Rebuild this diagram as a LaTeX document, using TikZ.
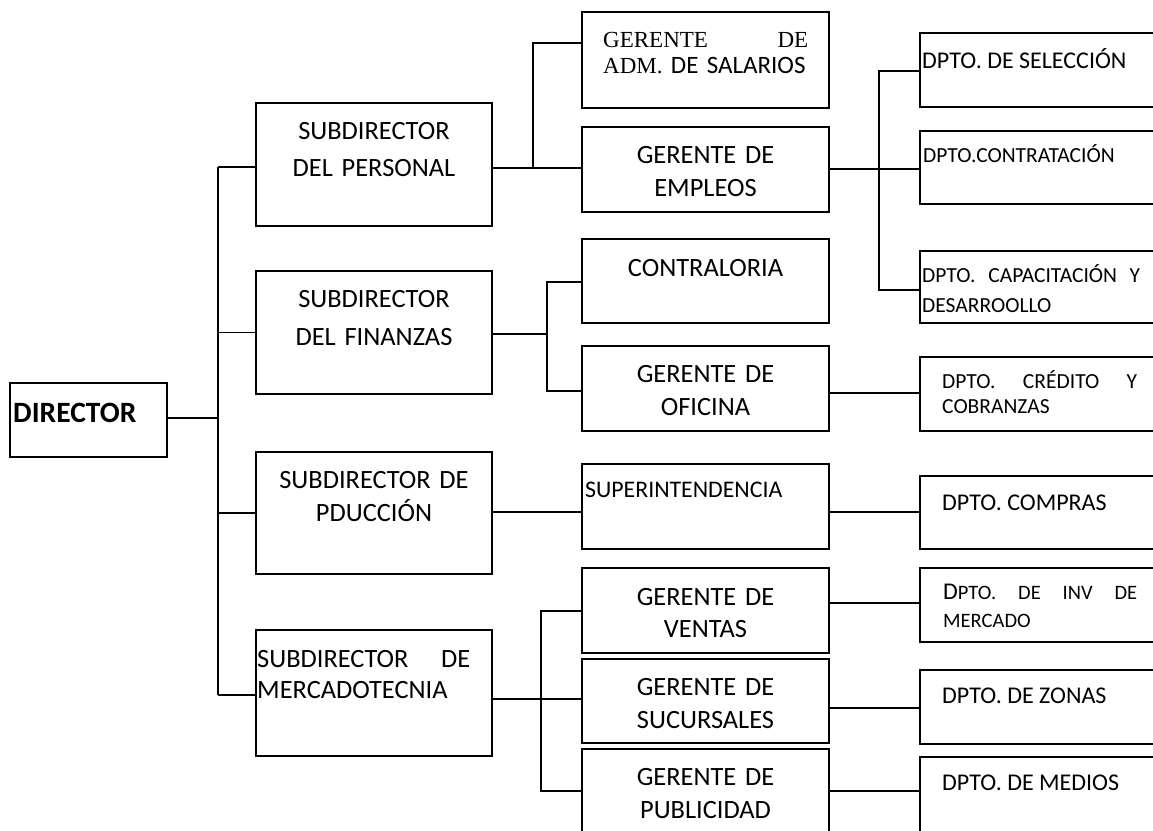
\documentclass[tikz,border=0pt]{standalone}
\usepackage{fontspec}
\setmainfont{Carlito}
\newfontfamily\tmsfont{Liberation Serif}
\begin{document}
\begin{tikzpicture}[x=1pt,y=-1pt,
  box/.style 2 args={draw, line width=1.5pt, inner sep=0pt, outer sep=0pt, anchor=north west, minimum width=#1pt, minimum height=#2pt},
  con/.style={line width=1.4pt},
  lc/.style={inner sep=0pt, anchor=base, align=center, text width=#1pt},
  ll/.style={inner sep=0pt, anchor=base west, align=left, text width=#1pt},
  fsub/.style={font=\fontsize{26.4}{#1}\selectfont},
  fger/.style={font=\fontsize{26.4}{#1}\selectfont},
  fdn/.style={font=\fontsize{24}{28}\selectfont},
  fds/.style={font=\fontsize{21.5}{#1}\selectfont}
]
\path[use as bounding box, clip] (0,0) rectangle (1153,830);
% boxes
\node[box={157}{74}] (dir) at (10,383) {};
\node[box={236}{123}] (sp) at (256,103) {};
\node[box={236}{123}] (sf) at (256,271) {};
\node[box={236}{122}] (sd) at (256,452) {};
\node[box={236}{126}] (sm) at (256,630) {};
\node[box={247}{96}] (ga) at (582,12) {};
\node[box={247}{85}] (ge) at (582,127) {};
\node[box={247}{84}] (gc) at (582,239) {};
\node[box={247}{85}] (go) at (582,346) {};
\node[box={247}{85}] (gs) at (582,464) {};
\node[box={247}{85}] (gv) at (582,568) {};
\node[box={247}{84}] (gu) at (582,659) {};
\node[box={247}{100}] (gp) at (582,749) {};
\node[box={260}{74}] (d1) at (920,33) {};
\node[box={260}{73}] (d2) at (920,131) {};
\node[box={260}{72}] (d3) at (920,251) {};
\node[box={260}{74}] (d4) at (920,357) {};
\node[box={260}{73}] (d5) at (920,476) {};
\node[box={260}{74}] (d6) at (920,568) {};
\node[box={260}{74}] (d7) at (920,670) {};
\node[box={260}{100}] (d8) at (920,757) {};
% junction coordinates
\coordinate (jd) at (218,418);
\coordinate (jt) at (218,167);
\coordinate (jb) at (218,695);
\coordinate (p0) at (533,168);
\coordinate (p2) at (533,43);
\coordinate (e0) at (879,169);
\coordinate (e1) at (879,71);
\coordinate (e2) at (879,290);
\coordinate (f0) at (547,334);
\coordinate (f1) at (547,282);
\coordinate (f2) at (547,391);
\coordinate (o0) at (875,393);
\coordinate (s0) at (540,512);
\coordinate (m0) at (541,699);
\coordinate (m1) at (541,611);
\coordinate (m2) at (541,791);
\coordinate (v0) at (875,603);
\coordinate (u0) at (875,708);
% connectors
\draw[con] (dir.east |- jd) -- (jd);
\draw[con] (jt) -- (jb);
\draw[con] (jt) -- (sp.west |- jt);
\draw[con] (jt |- sf.west) -- (sf.west);
\draw[con] (jt |- sd.west) -- (sd.west);
\draw[con] (jb) -- (sm.west |- jb);
\draw[con] (sp.east |- p0) -- (ge.west |- p0);
\draw[con] (p0) -- (p2) -- (ga.west |- p2);
\draw[con] (ge.east |- e0) -- (d2.west |- e0);
\draw[con] (d1.west |- e1) -- (e1) -- (e2) -- (d3.west |- e2);
\draw[con] (sf.east |- f0) -- (f0);
\draw[con] (gc.west |- f1) -- (f1) -- (f2) -- (go.west |- f2);
\draw[con] (go.east |- o0) -- (d4.west |- o0);
\draw[con] (sd.east |- s0) -- (gs.west |- s0);
\draw[con] (gs.east |- s0) -- (d5.west |- s0);
\draw[con] (sm.east |- m0) -- (gu.west |- m0);
\draw[con] (gv.west |- m1) -- (m1) -- (m2) -- (gp.west |- m2);
\draw[con] (gv.east |- v0) -- (d6.west |- v0);
\draw[con] (gu.east |- u0) -- (d7.west |- u0);
\draw[con] (gp.east |- m2) -- (d8.west |- m2);
% labels
\node[inner sep=0pt, anchor=base west, font=\bfseries\fontsize{29.5}{32}\selectfont] (ldir) at (13,422) {DIRECTOR};
\node[lc=230, fsub=37] (lsp) at (374,139) {SUBDIRECTOR\\DEL PERSONAL};
\node[lc=230, fsub=38] (lsf) at (374,307) {SUBDIRECTOR\\DEL FINANZAS};
\node[lc=230, fsub=33] (lsd) at (374,488) {SUBDIRECTOR DE\\PDUCCIÓN};
\node[ll=213, fsub=31] (lsm) at (257,667) {SUBDIRECTOR\hfill DE\\MERCADOTECNIA};
\node[ll=205, font=\fontsize{25}{26}\selectfont] (lga) at (603,47) {{\tmsfont\fontsize{23}{26}\selectfont GERENTE\hfill DE}\\{\tmsfont\fontsize{23}{26}\selectfont ADM.} DE SALARIOS};
\node[lc=240, fger=33] (lge) at (705.5,163) {GERENTE DE\\EMPLEOS};
\node[lc=240, fger=32] (lgc) at (705.5,276) {CONTRALORIA};
\node[lc=240, fger=33] (lgo) at (705.5,382) {GERENTE DE\\OFICINA};
\node[inner sep=0pt, anchor=base west, font=\fontsize{23.8}{28}\selectfont] (lgs) at (585,497) {SUPERINTENDENCIA};
\node[lc=240, fger=32] (lgv) at (705.5,605) {GERENTE DE\\VENTAS};
\node[lc=240, fger=33] (lgu) at (705.5,695) {GERENTE DE\\SUCURSALES};
\node[lc=240, fger=33] (lgp) at (705.5,785) {GERENTE DE\\PUBLICIDAD};
\node[inner sep=0pt, anchor=base west, fdn] (ld1) at (922,68) {DPTO. DE SELECCIÓN};
\node[inner sep=0pt, anchor=base west, fds=25] (ld2) at (923,162) {DPTO.CONTRATACIÓN};
\node[ll=218, fds=30] (ld3) at (922,282) {DPTO.\hfill CAPACITACIÓN\hfill Y\\DESARROOLLO};
\node[ll=195, fds=25] (ld4) at (942,388) {DPTO.\hfill CRÉDITO\hfill Y\\COBRANZAS};
\node[inner sep=0pt, anchor=base west, fdn] (ld5) at (942,510) {DPTO. COMPRAS};
\node[ll=194, font=\fontsize{20.5}{28}\selectfont] (ld6) at (943,599) {{\fontsize{24}{28}\selectfont D}PTO.\hfill DE\hfill INV\hfill DE\\MERCADO};
\node[inner sep=0pt, anchor=base west, fdn] (ld7) at (942,703) {DPTO. DE ZONAS};
\node[inner sep=0pt, anchor=base west, fdn] (ld8) at (942,790) {DPTO. DE MEDIOS};
\end{tikzpicture}
\end{document}
